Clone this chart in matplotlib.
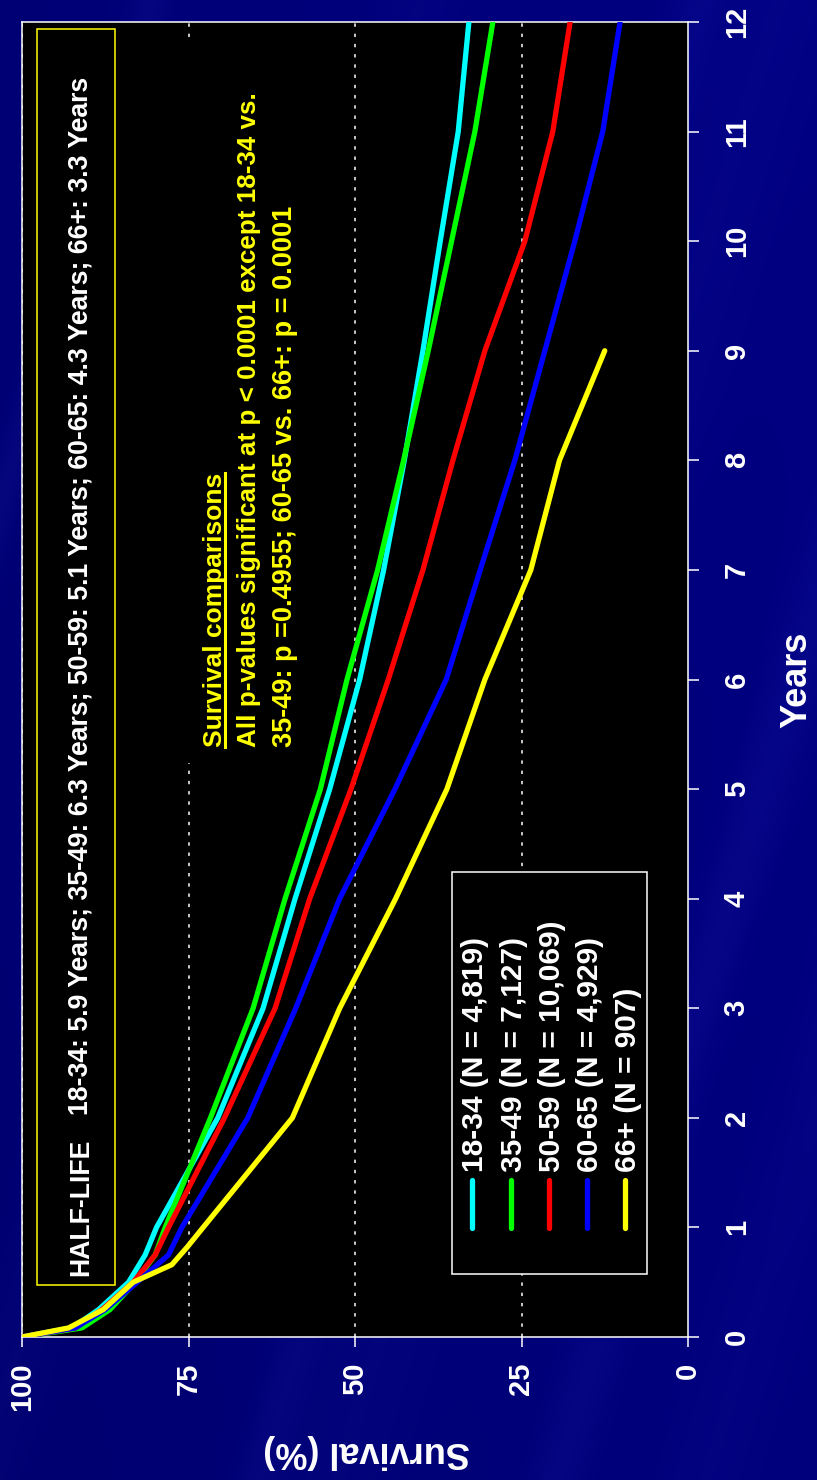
import numpy as np
import matplotlib
matplotlib.use("Agg")
import matplotlib.pyplot as plt
from matplotlib.patches import Rectangle
from matplotlib.lines import Line2D
from matplotlib.transforms import Affine2D

plt.rcParams['font.family'] = ['Liberation Sans', 'DejaVu Sans']
plt.rcParams['font.weight'] = 'bold'

W, H = 817, 1480

# Kaplan-Meier survival (%) by age group
years = [0, 0.083, 0.25, 0.5, 0.75, 1, 2, 3, 4, 5, 6, 7, 8, 9, 10, 11, 12]
surv_18_34 = [100, 92.5, 88.5, 84.0, 81.5, 79.8, 70.6, 63.8, 59.0, 53.8, 49.3, 45.7, 42.6, 39.8, 37.2, 34.5, 32.9]
surv_35_49 = [100, 91.0, 86.8, 83.0, 80.0, 78.5, 71.7, 65.3, 60.5, 55.2, 51.2, 46.6, 42.7, 39.0, 35.5, 32.0, 29.3]
surv_50_59 = [100, 92.0, 88.0, 83.3, 80.0, 78.0, 69.6, 62.0, 56.8, 50.6, 45.0, 39.8, 35.3, 30.5, 24.5, 20.3, 17.7]
surv_60_65 = [100, 92.0, 87.5, 82.7, 78.0, 76.0, 66.1, 58.9, 52.3, 44.0, 36.3, 31.2, 26.0, 21.5, 17.0, 12.8, 10.2]
years_66 = [0, 0.083, 0.25, 0.5, 0.66, 0.82, 1, 2, 3, 4, 5, 6, 7, 8, 9]
surv_66 = [100, 93.0, 87.8, 83.3, 77.5, 75.2, 72.8, 59.4, 52.3, 43.9, 36.2, 30.5, 23.6, 19.3, 12.5]

groups = ['18-34', '35-49', '50-59', '60-65', '66+']
group_n = ['4,819', '7,127', '10,069', '4,929', '907']
group_colors = ['#00FFFF', '#00FF00', '#FF0000', '#0000FF', '#FFFF00']
half_life = [5.9, 6.3, 5.1, 4.3, 3.3]

year_ticks = list(range(13))
surv_ticks = [0, 25, 50, 75, 100]

curves = [(years, surv_18_34), (years, surv_35_49), (years, surv_50_59),
          (years, surv_60_65), (years_66, surv_66)]

fig = plt.figure(figsize=(W / 100, H / 100), dpi=100)

# slide background: navy with soft diagonal streaks
bg = fig.add_axes([0, 0, 1, 1])
bg.axis('off')
yy, xx = np.mgrid[0:H:4, 0:W:4].astype(float)
u = xx + 0.3 * yy
band = np.zeros_like(u)
for c, w, a in [(150, 20, 0.35), (420, 40, 0.2), (700, 25, 0.3), (780, 60, 0.2),
                (1000, 30, 0.35), (1150, 50, 0.2)]:
    band += a * np.exp(-((u - c) / w) ** 2)
img = np.dstack([0.06 * band, 0.06 * band,
                 0.44 + 0.10 * band + 0.05 * (xx / W) + 0.02 * (1 - yy / H)])
bg.imshow(np.clip(img, 0, 1), extent=[0, 1, 0, 1], aspect='auto', interpolation='bilinear')
bg.set_xlim(0, 1)
bg.set_ylim(0, 1)

# pixel transform, origin top-left
pix = Affine2D().scale(1 / W, -1 / H).translate(0, 1) + fig.transFigure

ax = fig.add_axes([22 / W, 1 - 1337 / H, 666 / W, 1315 / H])
ax.set_facecolor('black')
ax.set_xlim(100, 0)
ax.set_ylim(0, 12)
for sp in ax.spines.values():
    sp.set_color('white')
    sp.set_linewidth(1.1)

ax.set_xticks(surv_ticks)
ax.set_xticklabels([str(v) for v in surv_ticks])
ax.set_yticks(year_ticks)
ax.set_yticklabels([str(v) for v in year_ticks])
ax.yaxis.tick_right()
ax.tick_params(axis='x', colors='white', length=7.2, width=1.1, pad=11,
               labelsize=21, labelrotation=90)
ax.tick_params(axis='y', colors='white', length=8, width=1.1, pad=17,
               labelsize=21, labelrotation=90)
for lab in ax.get_yticklabels():
    lab.set_va('center')
    lab.set_ha('left')
for lab in ax.get_xticklabels():
    lab.set_ha('center')
    lab.set_va('top')

for s in [100, 75, 50, 25]:
    ax.axvline(s, color='white', lw=1.1, ls=(0, (2.2, 4.5)), zorder=1)

for (t, s), col in zip(curves, group_colors):
    ax.plot(s, t, color=col, lw=3.8, solid_joinstyle='round', solid_capstyle='round', zorder=3)

# black backing behind the comparisons note
ax.add_patch(Rectangle((175, 763), 145, -720, transform=pix, fc='black', ec='none', zorder=2))

# half-life box
ax.add_patch(Rectangle((37, 1285), 78, -1256, transform=pix, fc='black', ec='yellow',
                       lw=1.1, zorder=4))
ax.text(68, 1276, 'HALF-LIFE', transform=pix, rotation=90, ha='left', va='bottom',
        color='white', fontsize=19.2, zorder=5)
hl = '; '.join(f'{g}: {h} Years' for g, h in zip(groups, half_life))
ax.text(68, 1115, hl, transform=pix, rotation=90, ha='left', va='bottom',
        color='white', fontsize=19.2, zorder=5)

# comparisons note
title = ax.text(203, 747, 'Survival comparisons', transform=pix, rotation=90,
                ha='left', va='bottom', color='yellow', fontsize=19, zorder=5)
ax.text(237, 747, 'All p-values significant at p < 0.0001 except 18-34 vs.', transform=pix,
        rotation=90, ha='left', va='bottom', color='yellow', fontsize=18.7, zorder=5)
ax.text(272, 747, '35-49: p =0.4955; 60-65 vs. 66+: p = 0.0001', transform=pix,
        rotation=90, ha='left', va='bottom', color='yellow', fontsize=19.5, zorder=5)

# legend
ax.add_patch(Rectangle((452, 1274), 195, -402, transform=pix, fc='black', ec='white',
                       lw=1.1, zorder=6))
for i, (g, n, col) in enumerate(zip(groups, group_n, group_colors)):
    lx = 472.5 + 38.2 * i
    ax.add_line(Line2D([lx, lx], [1180, 1228], transform=pix, color=col, lw=3.8,
                       solid_capstyle='round', zorder=7))
    ax.text(lx - 11, 1172, f'{g} (N = {n})', transform=pix, rotation=90, ha='left',
            va='bottom', color='white', fontsize=21.5, zorder=7)

fig.text(367 / W, 1 - 1452 / H, 'Survival (%)', rotation=180, ha='center', va='center',
         color='white', fontsize=26)
fig.text(797 / W, 1 - 680 / H, 'Years', rotation=90, ha='center', va='center',
         color='white', fontsize=26)

# underline the note title
fig.canvas.draw()
bb = title.get_window_extent()
ux = bb.x1 - 2.5
fig.add_artist(Line2D([ux / W, ux / W], [bb.y0 / H, bb.y1 / H], transform=fig.transFigure,
                      color='yellow', lw=2.2))

fig.savefig('out.png', dpi=100, facecolor=fig.get_facecolor())
